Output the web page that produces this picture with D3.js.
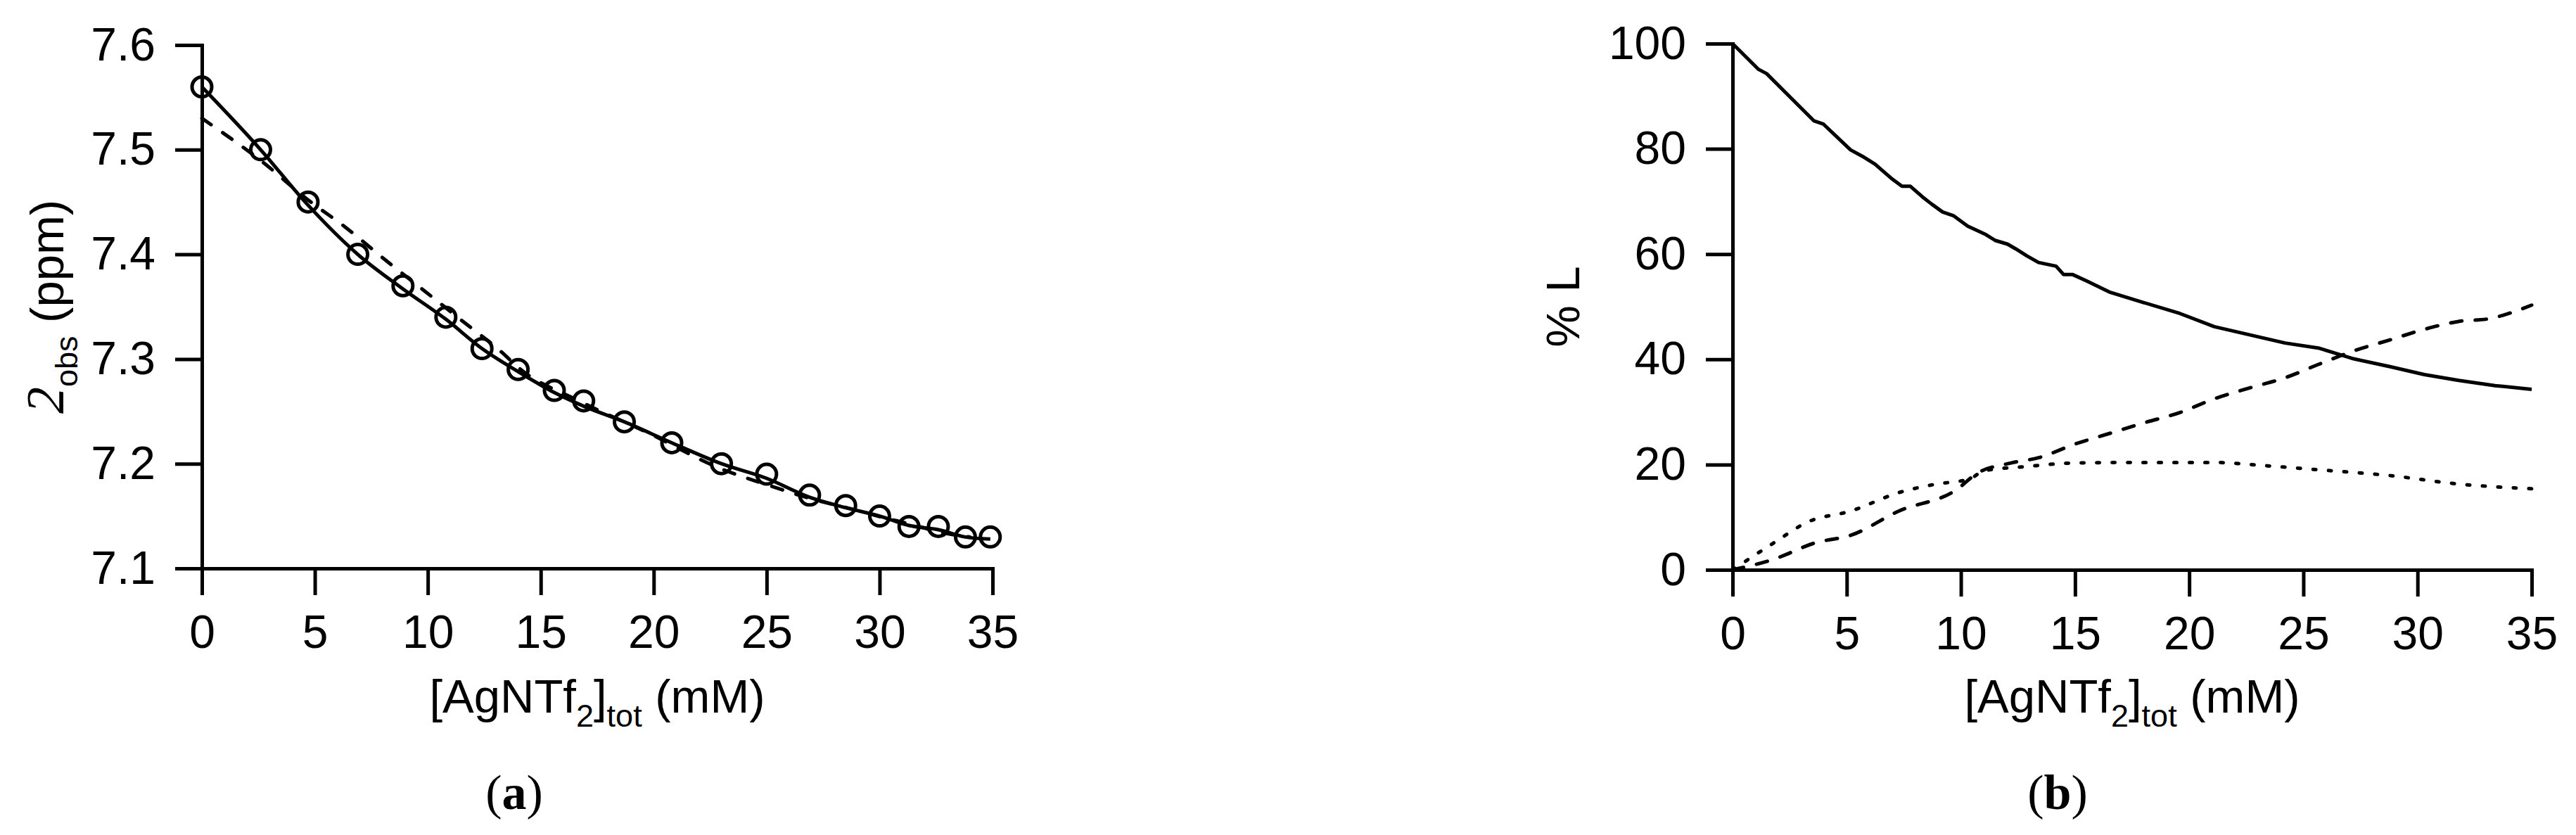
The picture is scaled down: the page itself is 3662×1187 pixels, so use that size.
<!DOCTYPE html>
<html>
<head>
<meta charset="utf-8">
<script src="https://cdn.jsdelivr.net/npm/d3@7"></script>
<style>
  body { margin: 0; background: #fff; }
  text { font-family: "Liberation Sans", Arial, sans-serif; fill: #000; }
</style>
</head>
<body>
<div id="chart"></div>
<script>
// ---- data ----
// panel (a): observed shifts
var concA = [0, 2.6, 4.7, 6.9, 8.9, 10.8, 12.4, 14.0, 15.6, 16.9, 18.7, 20.8, 23.0, 25.0, 26.9, 28.5, 30.0, 31.3, 32.6, 33.8, 34.9];
var shiftA = [7.56, 7.50, 7.45, 7.40, 7.37, 7.34, 7.31, 7.29, 7.27, 7.26, 7.24, 7.22, 7.20, 7.19, 7.17, 7.16, 7.15, 7.14, 7.14, 7.13, 7.13];
// panel (a): solid fit
var fitSolidA = [7.56, 7.50, 7.447, 7.40, 7.367, 7.338, 7.31, 7.288, 7.268, 7.255, 7.24, 7.22, 7.20, 7.186, 7.168, 7.158, 7.15, 7.141, 7.137, 7.13, 7.128];
// panel (a): dashed fit
var concDashA = [0, 2.7, 4.7, 6.35, 8.1, 9.8, 11.55, 13.3, 14.0, 16.7, 19.7, 23.0, 25.0, 26.9, 28.7, 30.1, 31.4, 32.8, 34.0];
var fitDashA = [7.53, 7.488, 7.452, 7.426, 7.395, 7.366, 7.336, 7.306, 7.292, 7.26, 7.23, 7.195, 7.18, 7.167, 7.157, 7.149, 7.142, 7.134, 7.13];

// panel (b): species distribution
var concB = [0, 1.14, 1.49, 3.57, 3.98, 5.17, 5.76, 6.24, 6.95, 7.42, 7.78, 8.31, 8.72, 9.2, 9.67, 10.3, 11.1, 11.5, 12.04, 12.4, 12.87, 13.4, 14.17, 14.5, 14.9, 15.5, 16.5, 18.0, 19.6, 21.1, 22.6, 24.2, 25.7, 27.2, 28.8, 30.3, 31.8, 33.4, 35.0];
var pctL = [100, 95.1, 94.3, 85.3, 84.7, 79.8, 78.4, 77.1, 74.4, 72.9, 72.9, 70.9, 69.5, 68.0, 67.3, 65.3, 63.7, 62.6, 61.9, 61.0, 59.7, 58.4, 57.7, 56.1, 56.1, 54.9, 52.8, 50.8, 48.7, 46.2, 44.7, 43.1, 42.1, 40.1, 38.6, 37.1, 36.0, 35.0, 34.3];
var concML = [0, 1.8, 3.6, 5.2, 7.3, 9.8, 10.7, 12.2, 13.4, 15.0, 16.5, 18.0, 19.6, 21.1, 22.6, 24.2, 25.7, 27.2, 28.8, 30.3, 31.8, 33.1, 35.0];
var pctML = [0, 2.0, 5.1, 6.6, 11.2, 15.2, 18.3, 20.3, 21.3, 23.9, 25.9, 27.9, 29.9, 32.5, 34.5, 36.5, 39.1, 41.6, 43.7, 45.7, 47.2, 47.7, 50.3];
var concML2 = [0, 1.8, 3.3, 5.2, 7.3, 8.8, 10.4, 11.0, 12.8, 15.0, 18.0, 21.1, 23.3, 25.7, 28.8, 31.8, 35.0];
var pctML2 = [0, 5.1, 9.1, 11.2, 14.7, 16.2, 17.3, 18.8, 19.6, 20.3, 20.4, 20.4, 19.8, 19.0, 17.9, 16.3, 15.4];

// tick labels
var xTicks = [0, 5, 10, 15, 20, 25, 30, 35];
var yTicksA = [7.1, 7.2, 7.3, 7.4, 7.5, 7.6];
var yTicksB = [0, 20, 40, 60, 80, 100];

// ---- page ----
var W = 3662, H = 1187;
var svg = d3.select("#chart").append("svg")
    .attr("width", W)
    .attr("height", H);
svg.append("rect").attr("width", W).attr("height", H).attr("fill", "#fff");

var fontSize = 66, subSize = 45;

function styleAxis(g) {
  g.select(".domain")
      .attr("stroke-width", 5)
      .attr("stroke-linejoin", "miter");
  g.selectAll(".tick line")
      .attr("stroke-width", 5);
  g.selectAll(".tick text")
      .style("font-size", fontSize + "px")
      .style("font-family", "'Liberation Sans', Arial, sans-serif");
}

// x title with subscripts: [AgNTf2]tot (mM)
function xTitle(cx, y) {
  var t = svg.append("text")
      .attr("x", cx).attr("y", y)
      .attr("text-anchor", "middle")
      .style("font-size", "67px");
  t.append("tspan").text("[AgNTf");
  t.append("tspan").attr("dy", 20).style("font-size", subSize + "px").text("2");
  t.append("tspan").attr("dy", -20).text("]");
  t.append("tspan").attr("dy", 20).style("font-size", subSize + "px").text("tot");
  t.append("tspan").attr("dy", -20).text(" (mM)");
}

function caption(cx, y, letter) {
  var t = svg.append("text")
      .attr("x", cx).attr("y", y)
      .attr("text-anchor", "middle")
      .style("font-family", "'Liberation Serif', 'Times New Roman', serif")
      .style("font-size", "70px");
  t.append("tspan").text("(");
  t.append("tspan").style("font-weight", "bold").text(letter);
  t.append("tspan").text(")");
}

// ---- panel (a) ----
var gA = svg.append("g").attr("transform", "translate(287,64)");
var wA = 1124, hA = 744;
var xA = d3.scaleLinear().domain([0, 35]).range([0, wA]);
var yA = d3.scaleLinear().domain([7.1, 7.6]).range([hA, 0]);

gA.append("g")
    .attr("transform", "translate(0," + hA + ")")
    .call(d3.axisBottom(xA).tickValues(xTicks).tickSize(38).tickPadding(28))
    .call(styleAxis);
gA.append("g")
    .call(d3.axisLeft(yA).tickValues(yTicksA).tickFormat(d3.format(".1f")).tickSize(38).tickPadding(28))
    .call(styleAxis);

var lineA = d3.line()
    .x(function(d) { return xA(d[0]); })
    .y(function(d) { return yA(d[1]); })
    .curve(d3.curveMonotoneX);

gA.append("path")
    .datum(concDashA.map(function(c, i) { return [c, fitDashA[i]]; }))
    .attr("d", lineA)
    .attr("fill", "none")
    .attr("stroke", "#000")
    .attr("stroke-width", 5)
    .attr("stroke-linecap", "round")
    .attr("stroke-dasharray", "16,20");

gA.append("path")
    .datum(concA.map(function(c, i) { return [c, fitSolidA[i]]; }))
    .attr("d", lineA)
    .attr("fill", "none")
    .attr("stroke", "#000")
    .attr("stroke-width", 5);

gA.selectAll(".pt")
    .data(concA.map(function(c, i) { return [c, shiftA[i]]; }))
    .enter().append("circle")
    .attr("class", "pt")
    .attr("cx", function(d) { return xA(d[0]); })
    .attr("cy", function(d) { return yA(d[1]); })
    .attr("r", 14)
    .attr("fill", "none")
    .attr("stroke", "#000")
    .attr("stroke-width", 5);

xTitle(849, 1013);

// y title: 2obs (ppm)
var ytA = svg.append("text")
    .attr("transform", "translate(90,436) rotate(-90)")
    .attr("text-anchor", "middle")
    .style("font-size", "67px");
ytA.append("tspan")
    .style("font-family", "'Liberation Serif', 'DejaVu Serif', serif")
    .style("font-style", "italic")
    .style("font-size", "76px")
    .text("2");
ytA.append("tspan").attr("dy", 20).style("font-size", subSize + "px").text("obs");
ytA.append("tspan").attr("dy", -20).text(" (ppm)");

caption(731, 1150, "a");

// ---- panel (b) ----
var gB = svg.append("g").attr("transform", "translate(2463,62)");
var wB = 1136, hB = 748;
var xB = d3.scaleLinear().domain([0, 35]).range([0, wB]);
var yB = d3.scaleLinear().domain([0, 100]).range([hB, 0]);

gB.append("g")
    .attr("transform", "translate(0," + hB + ")")
    .call(d3.axisBottom(xB).tickValues(xTicks).tickSize(38).tickPadding(28))
    .call(styleAxis);
gB.append("g")
    .call(d3.axisLeft(yB).tickValues(yTicksB).tickSize(38).tickPadding(28))
    .call(styleAxis);

function seriesB(xs, ys, dash, curve) {
  var line = d3.line()
      .x(function(d) { return xB(d[0]); })
      .y(function(d) { return yB(d[1]); })
      .curve(curve);
  var p = gB.append("path")
      .datum(xs.map(function(c, i) { return [c, ys[i]]; }))
      .attr("d", line)
      .attr("fill", "none")
      .attr("stroke", "#000")
      .attr("stroke-width", 5)
      .attr("stroke-linejoin", "round");
  if (dash) {
    p.attr("stroke-dasharray", dash).attr("stroke-linecap", "round");
  }
}
seriesB(concML2, pctML2, "4,18", d3.curveMonotoneX);
seriesB(concML, pctML, "16,19", d3.curveMonotoneX);
seriesB(concB, pctL, null, d3.curveLinear);

xTitle(3031, 1013);

svg.append("text")
    .attr("transform", "translate(2245,436) rotate(-90)")
    .attr("text-anchor", "middle")
    .style("font-size", "67px")
    .text("% L");

caption(2925, 1150, "b");
</script>
</body>
</html>
